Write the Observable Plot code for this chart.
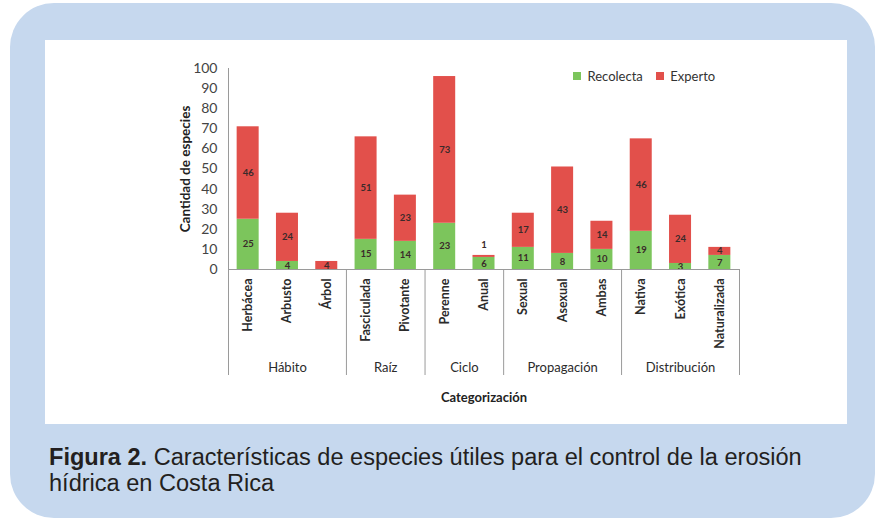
<!DOCTYPE html>
<html>
<head>
<meta charset="utf-8">
<script src="https://cdn.jsdelivr.net/npm/d3@7"></script>
<script src="https://cdn.jsdelivr.net/npm/@observablehq/plot@0.6"></script>
<style>
  html, body { margin: 0; padding: 0; background: #ffffff; width: 880px; height: 521px; overflow: hidden; }
  #panel { position: absolute; left: 10px; top: 3px; width: 865px; height: 515px; background: #c6d8ee; border-radius: 44px; }
  #inner { position: absolute; left: 45px; top: 40px; width: 802px; height: 384px; background: #ffffff; }
  #legend { position: absolute; left: 573px; top: 59px; }
  #caption { position: absolute; left: 49px; top: 444px; width: 700px; font-family: "Liberation Sans", Arial, sans-serif; font-size: 23px; line-height: 26px; color: #231f20; transform: scaleX(1.024); transform-origin: left top; white-space: nowrap; }
</style>
</head>
<body>
<div id="panel"></div>
<div id="inner"></div>
<div id="legend"></div>
<div id="caption"><b>Figura 2.</b> Características de especies útiles para el control de la erosión<br>hídrica en Costa Rica</div>
<script>
const categories = ["Herbácea","Arbusto","Árbol","Fasciculada","Pivotante","Perenne","Anual","Sexual","Asexual","Ambas","Nativa","Exótica","Naturalizada"];
const recolecta = [25, 4, 0, 15, 14, 23, 6, 11, 8, 10, 19, 3, 7];
const experto   = [46, 24, 4, 51, 23, 73, 1, 17, 43, 14, 46, 24, 4];
const groups = ["Hábito","Raíz","Ciclo","Propagación","Distribución"];
const groupSizes = [3, 2, 2, 3, 3];
const seriesNames = ["Recolecta","Experto"];
const seriesColors = ["#7cc55c","#e2504b"];
const yTicks = [0,10,20,30,40,50,60,70,80,90,100];

// build table
const rows = [];
categories.forEach((c, i) => {
  rows.push({cat: c, i, serie: "Recolecta", value: recolecta[i], y1: 0, y2: recolecta[i]});
  rows.push({cat: c, i, serie: "Experto", value: experto[i], y1: recolecta[i], y2: recolecta[i] + experto[i]});
});
const labelRows = rows.filter(d => d.value > 0).map(d => ({
  ...d,
  ly: d.value <= 1 ? d.y2 : (d.y1 + d.y2) / 2,
  above: d.value <= 1
}));

// groups: boundaries and centers
const bounds = [-0.5];
const groupRows = [];
let start = 0;
groups.forEach((g, k) => {
  const n = groupSizes[k];
  groupRows.push({g, center: start + (n - 1) / 2});
  start += n;
  bounds.push(start - 0.5);
});

const catRows = categories.map((c, i) => ({cat: c, i}));
const font = "Lato, 'Open Sans', sans-serif";
const halfBar = 0.28;

const chart = Plot.plot({
  width: 802,
  height: 384,
  marginLeft: 183,
  marginRight: 108,
  marginTop: 28,
  marginBottom: 155,
  style: {fontFamily: font, background: "transparent", overflow: "visible"},
  x: {domain: [-0.5, categories.length - 0.5], axis: null},
  y: {domain: [0, 100], axis: null},
  color: {domain: seriesNames, range: seriesColors},
  marks: [
    Plot.axisY({ticks: yTicks, tickSize: 0, tickPadding: 11, label: null, fontSize: 14, color: "#444", tickFormat: d => d}),
    Plot.rectY(rows, {x1: d => d.i - halfBar, x2: d => d.i + halfBar, y1: "y1", y2: "y2", fill: "serie"}),
    Plot.text(labelRows, {x: "i", y: "ly", text: d => String(d.value), fill: "#3a2a2a", fontSize: 9.5, fontWeight: "bold",
      lineAnchor: "middle", filter: d => !d.above}),
    Plot.text(labelRows, {x: "i", y: "ly", text: d => String(d.value), fill: "#3a2a2a", fontSize: 9.5, fontWeight: "bold", dy: -10,
      lineAnchor: "middle", filter: d => d.above}),
    Plot.ruleY([0], {stroke: "#9a9a9a", strokeWidth: 1}),
    Plot.ruleX([-0.5], {y1: 0, y2: 100, stroke: "#9a9a9a", strokeWidth: 1}),
    Plot.ruleX(bounds, {y1: 0, y2: 0, insetBottom: -106, stroke: "#9a9a9a", strokeWidth: 1}),
    Plot.text(catRows, {x: "i", y: 0, text: "cat", rotate: -90, textAnchor: "end", lineAnchor: "middle", dy: 9,
      fontSize: 12.5, fontWeight: "bold", fill: "#2b2b2b"}),
    Plot.text(groupRows, {x: "center", y: 0, text: "g", dy: 98, lineAnchor: "middle", fontSize: 13, fill: "#2b2b2b"}),
    Plot.text(["Categorización"], {frameAnchor: "bottom", textAnchor: "middle", dy: 128, lineAnchor: "middle", fontSize: 13, fontWeight: "bold", fill: "#222"}),
    Plot.text(["Cantidad de especies"], {frameAnchor: "left", textAnchor: "middle", rotate: -90, dx: -43, lineAnchor: "middle", fontSize: 13.5, fontWeight: "bold", fill: "#222"})
  ]
});
document.getElementById("inner").appendChild(chart);

const legend = Plot.legend({
  color: {domain: seriesNames, range: seriesColors},
  legend: "swatches",
  swatchSize: 8,
  style: {fontFamily: font, fontSize: "13px", color: "#333"}
});
document.getElementById("legend").appendChild(legend);
</script>
</body>
</html>
